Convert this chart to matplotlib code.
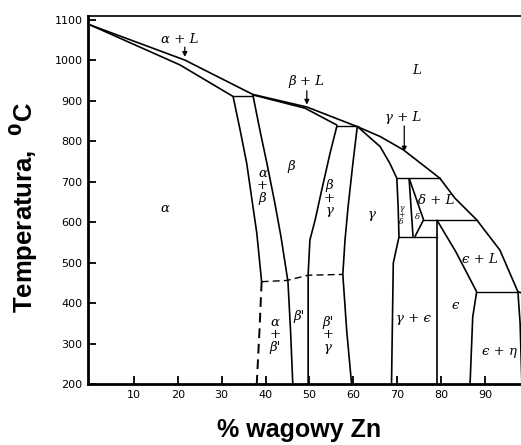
import matplotlib
matplotlib.use("Agg")
import matplotlib.pyplot as plt

# ---------------- data (wt% Zn, temperature in C) ----------------
liquidus_x = [0, 21.6, 37.1, 49.4, 61.0, 66.1, 71.4, 79.7, 83.1, 88.1, 93.4, 97.5, 100]
liquidus_T = [1088, 1001, 916, 885, 836, 812, 779, 709, 660, 606, 531, 428, 420]

solidus_a_x = [0, 20.5, 32.6]
solidus_a_T = [1088, 989, 911]

alpha_solvus_x = [32.6, 34.2, 35.7, 36.8, 38.0, 39.1]
alpha_solvus_T = [911, 828, 746, 663, 573, 453]
alpha_low_x = [39.1, 38.6, 38.0]
alpha_low_T = [453, 330, 202]

beta_left_x = [37.1, 38.7, 40.3, 42.1, 43.5, 45.1, 45.7, 46.2]
beta_left_T = [915, 828, 746, 648, 565, 453, 330, 200]

beta_solidus_x = [37.1, 49.0, 56.3]
beta_solidus_T = [915, 882, 840]

beta_right_x = [56.3, 54.7, 52.8, 51.3, 50.1, 49.7, 49.7]
beta_right_T = [840, 771, 680, 606, 556, 470, 200]

gamma_left_x = [60.9, 59.9, 58.8, 58.1, 57.6, 58.5, 59.6]
gamma_left_T = [837, 746, 638, 556, 471, 330, 200]

order_x = [39.1, 44.8, 49.7, 57.6]
order_T = [453, 456, 469, 471]

gamma_solidus_x = [61.0, 66.1, 68.3, 69.9]
gamma_solidus_T = [836, 787, 746, 709]

gamma_right_x = [69.9, 70.2, 70.4, 69.1, 68.7]
gamma_right_T = [709, 640, 564, 499, 202]

delta_left_x = [72.7, 73.6]
delta_left_T = [709, 564]
delta_right_x = [72.7, 76.0, 74.0]
delta_right_T = [709, 606, 564]

eps_left_x = [79.0, 79.0]
eps_left_T = [606, 200]
eps_solidus_x = [79.0, 83.3, 88.1]
eps_solidus_T = [606, 528, 428]
eps_right_x = [88.1, 87.2, 86.6]
eps_right_T = [428, 366, 202]
eta_left_x = [97.5, 98.0, 98.4]
eta_left_T = [428, 350, 200]

# isotherms: (x_start, x_end, T)
iso_x0 = [32.6, 56.3, 69.9, 70.4, 76.0, 88.1]
iso_x1 = [37.1, 61.0, 79.7, 79.0, 88.1, 97.5]
iso_T = [913, 838, 709, 564, 606, 428]

# region labels
lab_text = ["α + L", "β + L", "L", "γ + L", "α", "α\n+\nβ", "β", "β\n+\nγ", "γ",
            "δ + L", "ϵ + L", "ϵ", "γ + ϵ", "ϵ + η", "α\n+\nβ'", "β'", "β'\n+\nγ"]
lab_x = [20.5, 49.4, 74.4, 71.3, 17.1, 39.3, 45.9, 54.5, 64.2,
         78.8, 88.8, 83.1, 73.6, 93.2, 42.2, 47.7, 54.2]
lab_T = [1051, 947, 974, 858, 633, 690, 737, 659, 620,
         655, 507, 395, 362, 280, 322, 366, 322]

# arrows (x, T_from, T_to)
arr_x = [21.6, 49.4, 71.6]
arr_T0 = [1040, 932, 845]
arr_T1 = [1002, 884, 768]

x_ticks = [10, 20, 30, 40, 50, 60, 70, 80, 90]
y_ticks = [200, 300, 400, 500, 600, 700, 800, 900, 1000, 1100]

# ---------------- figure ----------------
fig = plt.figure(figsize=(5.21, 4.45), dpi=100)
ax = fig.add_axes([88/521, 61/445, 433/521, 368/445])
ax.set_xlim(-0.46, 98.2)
ax.set_ylim(200, 1110)

lw = 1.2
col = "black"
solid = [(liquidus_x, liquidus_T), (solidus_a_x, solidus_a_T),
         (alpha_solvus_x, alpha_solvus_T), (beta_left_x, beta_left_T),
         (beta_solidus_x, beta_solidus_T), (beta_right_x, beta_right_T),
         (gamma_left_x, gamma_left_T), (gamma_solidus_x, gamma_solidus_T),
         (gamma_right_x, gamma_right_T), (delta_left_x, delta_left_T),
         (delta_right_x, delta_right_T), (eps_left_x, eps_left_T),
         (eps_solidus_x, eps_solidus_T), (eps_right_x, eps_right_T),
         (eta_left_x, eta_left_T)]
for xs, ts in solid:
    ax.plot(xs, ts, color=col, lw=lw, solid_capstyle="butt")
for x0, x1, t in zip(iso_x0, iso_x1, iso_T):
    ax.plot([x0, x1], [t, t], color=col, lw=1.0)
ax.plot(alpha_low_x, alpha_low_T, color=col, lw=1.4, ls=(0, (5, 3)))
ax.plot(order_x, order_T, color=col, lw=1.0, ls=(0, (5, 3)))

for t, x, y in zip(lab_text, lab_x, lab_T):
    ax.text(x, y, t, ha="center", va="center", fontsize=9.5,
            style="italic", family="DejaVu Serif", linespacing=0.95)
# tiny labels in the delta region
ax.text(70.9, 618, "γ\n+\nδ", ha="center", va="center", fontsize=5.5,
        style="italic", family="DejaVu Serif", linespacing=0.9)
ax.text(74.6, 612, "δ", ha="center", va="center", fontsize=6,
        style="italic", family="DejaVu Serif")

for x, t0, t1 in zip(arr_x, arr_T0, arr_T1):
    ax.annotate("", xy=(x, t1), xytext=(x, t0),
                arrowprops=dict(arrowstyle="-|>", color=col, lw=0.9,
                                mutation_scale=7))

ax.set_xticks(x_ticks)
ax.set_yticks(y_ticks)
ax.set_xticklabels([str(v) for v in x_ticks])
ax.set_yticklabels([str(v) for v in y_ticks])
ax.tick_params(direction="in", length=5.5, width=1.3, labelsize=8, pad=4)
ax.spines["right"].set_visible(False)
ax.spines["left"].set_linewidth(2.0)
ax.spines["bottom"].set_linewidth(2.0)
ax.spines["top"].set_linewidth(1.2)

ax.set_xlabel("% wagowy Zn", fontsize=18, fontweight="bold",
              family=["Liberation Sans", "DejaVu Sans"])
ax.xaxis.set_label_coords(0.487, -0.092)
ax.set_ylabel(r"Temperatura,  $^{\mathbf{0}}$C", fontsize=18.5, fontweight="bold",
              family=["Liberation Sans", "DejaVu Sans"])
ax.yaxis.set_label_coords(-0.112, 0.48)

fig.savefig("out.png", dpi=100)
